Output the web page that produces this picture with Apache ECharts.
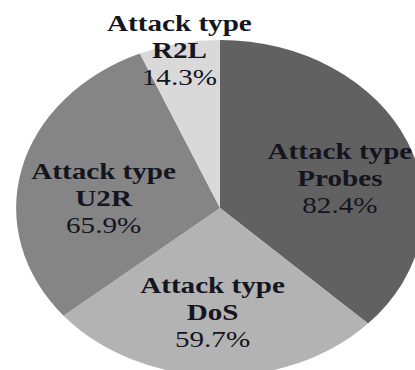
<!DOCTYPE html>
<html>
<head>
<meta charset="utf-8">
<script src="https://cdn.jsdelivr.net/npm/echarts@6/dist/echarts.min.js"></script>
<style>
  html, body { margin: 0; padding: 0; background: #ffffff; overflow: hidden; }
  body { width: 415px; height: 370px; position: relative; }
  /* The pie is drawn as a circle and then widened into an oval */
  #chart {
    position: absolute; left: 0; top: 0;
    width: 342px; height: 370px;
    transform: scaleX(1.2135);
    transform-origin: 0 0;
  }
</style>
</head>
<body>
<div id="chart"></div>
<script>
// Attack categories, clockwise from 12 o'clock
const categories = ['Probes', 'DoS', 'U2R', 'R2L'];
// Share values shown on each slice (%)
const shares = [82.4, 59.7, 65.9, 14.3];
const labelPrefix = 'Attack type';

// Styling
const sliceColors = ['#616161', '#b3b3b3', '#858585', '#d9d9d9'];
// label placement per slice: [fraction of radius, angular nudge in degrees]
const labelPlacement = [[0.615, 6.3], [0.62, 1.6], [0.574, -7.5], [0.96, -0.4]];
const pieCenter = [181.3, 208];
const pieRadius = 168;

const chart = echarts.init(document.getElementById('chart'), null, { renderer: 'svg' });

const total = shares.reduce((a, b) => a + b, 0);

function labelAnchor(i) {
  let before = 0;
  for (let j = 0; j < i; j++) before += shares[j];
  const mid = (before + shares[i] / 2) / total * 360 + labelPlacement[i][1];
  const a = mid * Math.PI / 180;
  const r = pieRadius * labelPlacement[i][0];
  return { x: pieCenter[0] + r * Math.sin(a), y: pieCenter[1] - r * Math.cos(a) };
}

chart.setOption({
  backgroundColor: '#ffffff',
  animation: false,
  series: [{
    type: 'pie',
    center: pieCenter,
    radius: [0, pieRadius],
    startAngle: 90,
    clockwise: true,
    avoidLabelOverlap: false,
    itemStyle: { borderWidth: 0 },
    labelLine: { show: false },
    label: {
      show: true,
      position: 'inside',
      formatter: function (p) {
        return '{b|' + labelPrefix + '}\n{b|' + p.name + '}\n{p|' + p.value.toFixed(1) + '%}';
      },
      rich: {
        b: { fontFamily: 'Liberation Serif', fontWeight: 'bold', fontSize: 24, lineHeight: 27, color: '#15151f', align: 'center' },
        p: { fontFamily: 'Liberation Serif', fontWeight: 'normal', fontSize: 24, lineHeight: 27, color: '#15151f', align: 'center' }
      }
    },
    labelLayout: function (params) {
      const pos = labelAnchor(params.dataIndex);
      return { x: pos.x, y: pos.y, align: 'center', verticalAlign: 'middle' };
    },
    data: categories.map((name, i) => ({
      name: name,
      value: shares[i],
      itemStyle: { color: sliceColors[i] }
    }))
  }]
});
</script>
</body>
</html>
